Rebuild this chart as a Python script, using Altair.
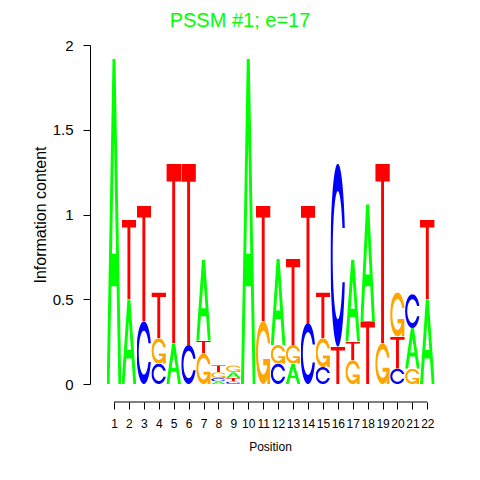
import base64
import numpy as np
import pandas as pd
import altair as alt

positions = list(range(1, 23))
heights_A = [1.92, 0.50, 0, 0, 0.24, 0, 0.48, 0.015, 0.035, 1.92, 0, 0.51, 0.12, 0, 0, 0, 0.485, 0.69, 0, 0, 0.24, 0.50]
heights_C = [0, 0, 0.37, 0.12, 0, 0.23, 0, 0.02, 0.015, 0, 0, 0.12, 0, 0.36, 0.10, 1.08, 0, 0, 0, 0.09, 0.20, 0]
heights_G = [0, 0, 0, 0.15, 0, 0, 0.18, 0.035, 0.04, 0, 0.37, 0.11, 0.11, 0, 0.17, 0, 0.14, 0, 0.24, 0.26, 0.09, 0]
heights_T = [0, 0.47, 0.68, 0.27, 1.06, 1.07, 0.075, 0.04, 0.02, 0, 0.68, 0, 0.51, 0.69, 0.27, 0.22, 0.11, 0.37, 1.06, 0.19, 0, 0.47]
# stacking order, bottom -> top
stack_order = ["A", "AT", "CT", "CGT", "AT", "CT", "GTA", "ACGT", "CTAG", "A", "GT", "CGA", "AGT",
               "CT", "CGT", "TC", "GTA", "TA", "GT", "CTG", "GAC", "AT"]
y_ticks = [0, 0.5, 1, 1.5, 2]

heights = {"A": heights_A, "C": heights_C, "G": heights_G, "T": heights_T}
colors = {"A": "#00FF00", "C": "#0000FF", "G": "#FFA500", "T": "#FF0000"}


# ---- glyph outlines (unit box, y up) ----
def path_of(xs, ys):
    pts = [f"{x * 100:.2f},{(1 - y) * 100:.2f}" for x, y in zip(xs, ys)]
    return "M" + " L".join(pts) + " Z"


def glyph_A():
    x = np.array([0, 4, 6, 10, 8, 6.8, 3.2, 2, 0]) / 10
    y = np.array([0, 10, 10, 0, 0, 3, 3, 0, 0]) / 10
    xh = np.array([3.6, 5, 6.4, 3.6]) / 10
    yh = np.array([4, 7.5, 4, 4]) / 10
    return [path_of(x, y), path_of(xh, yh)]


def ring():
    a1 = np.linspace(0.3 + np.pi / 2, np.pi, 100)
    a2 = np.linspace(np.pi, 1.5 * np.pi, 100)
    xl1 = 0.5 + 0.5 * np.sin(a1); yl1 = 0.5 + 0.5 * np.cos(a1)
    xl2 = 0.5 + 0.5 * np.sin(a2); yl2 = 0.5 + 0.5 * np.cos(a2)
    xl = np.concatenate([xl1, xl2]); yl = np.concatenate([yl1, yl2])
    x = np.concatenate([xl, xl[::-1]]); y = np.concatenate([yl, 1 - yl[::-1]])
    xi1 = 0.5 + 0.35 * np.sin(a1); yi1 = 0.5 + 0.35 * np.cos(a1)
    keep = yi1 <= yl1.max()
    xi1 = xi1[keep]; yi1 = yi1[keep].copy(); yi1[0] = yl1.max()
    xi2 = 0.5 + 0.35 * np.sin(a2); yi2 = 0.5 + 0.35 * np.cos(a2)
    xi = np.concatenate([xi1, xi2]); yi = np.concatenate([yi1, yi2])
    x1 = np.concatenate([xi, xi[::-1]]); y1 = np.concatenate([yi, 1 - yi[::-1]])
    x = np.concatenate([x, x1[::-1]]); y = np.concatenate([y, y1[::-1]])
    return x, y, xl1.max()


def glyph_C():
    x, y, _ = ring()
    return [path_of(x, y)]


def glyph_G():
    x, y, r1 = ring()
    h1 = 0.4
    xa = [r1, 0.5, 0.5, r1 - 0.2, r1 - 0.2, r1, r1]
    ya = [h1, h1, h1 - 0.1, h1 - 0.1, 0, 0, h1]
    return [path_of(x, y), path_of(xa, ya)]


def glyph_T():
    x = np.array([0, 10, 10, 6, 6, 4, 4, 0]) / 10
    y = np.array([10, 10, 9, 9, 0, 0, 9, 9]) / 10
    return [path_of(x, y)]


def to_url(paths, color, rule):
    body = "".join(f'<path d="{p}" fill="{color}" fill-rule="{rule}"/>' for p in paths)
    svg = ('<svg xmlns="http://www.w3.org/2000/svg" width="100" height="100" viewBox="0 0 100 100" '
           f'preserveAspectRatio="none">{body}</svg>')
    return "data:image/svg+xml;base64," + base64.b64encode(svg.encode()).decode()


glyph_url = {
    "A": to_url([" ".join(glyph_A())], colors["A"], "evenodd"),
    "C": to_url(glyph_C(), colors["C"], "nonzero"),
    "G": to_url(glyph_G(), colors["G"], "nonzero"),
    "T": to_url(glyph_T(), colors["T"], "nonzero"),
}

rows = []
for i, p in enumerate(positions):
    base = 0.0
    for L in stack_order[i]:
        h = heights[L][i]
        rows.append(dict(pos=p, letter=L, y0=base, y1=base + h, url=glyph_url[L]))
        base += h
df = pd.DataFrame(rows)

W, H = 360, 339
x_scale = alt.Scale(domain=[-0.6086, 23.52], nice=False, zero=False)
y_scale = alt.Scale(domain=[0, 2], nice=False, zero=False)

x_axis = alt.Axis(values=positions, domain=False, tickSize=7, tickColor="black", tickWidth=1,
                  labelFontSize=12, labelColor="black", labelPadding=9, offset=18, grid=False,
                  title="Position", titleFontSize=12, titleFontWeight="normal", titleColor="black",
                  titlePadding=12, labelOverlap=False, labelFlush=False, labelAngle=0)
y_axis = alt.Axis(values=y_ticks, format="~g", domain=True, domainColor="black", tickSize=7,
                  tickColor="black", labelFontSize=15, labelColor="black", labelPadding=10,
                  labelFlush=False, grid=False, title="Information content", titleFontSize=16,
                  titleFontWeight="normal", titleColor="black", titleX=-45, titleY=H / 2,
                  titleBaseline="alphabetic", titleAngle=270, titleAlign="center")

letters = alt.Chart(df).transform_calculate(
    xl="datum.pos - 0.49", xr="datum.pos + 0.49"
).mark_image(aspect=False).encode(
    x=alt.X("xl:Q", scale=x_scale, axis=x_axis, title="Position"),
    x2="xr:Q",
    y=alt.Y("y0:Q", scale=y_scale, axis=y_axis, title="Information content"),
    y2="y1:Q",
    url="url:N",
)

axis_df = pd.DataFrame({"a": [positions[0]], "b": [positions[-1]]})
axis_line = alt.Chart(axis_df).mark_rule(color="black", strokeWidth=1).encode(
    x=alt.X("a:Q", scale=x_scale, axis=x_axis, title="Position"),
    x2="b:Q",
    y=alt.value(H + 18),
)

chart = alt.layer(letters, axis_line).properties(
    width=W, height=H,
    title=alt.TitleParams("PSSM #1; e=17", fontSize=20, color="#00FF00", fontWeight="normal",
                          font="Liberation Sans", anchor="middle", dx=-30, offset=7),
    autosize=alt.AutoSizeParams(type="none"),
    padding={"left": 82, "top": 37, "right": 10, "bottom": 80},
).configure(font="Liberation Sans").configure_view(stroke=None)

chart.save("out.html", embed_options={"renderer": "svg", "actions": False})
